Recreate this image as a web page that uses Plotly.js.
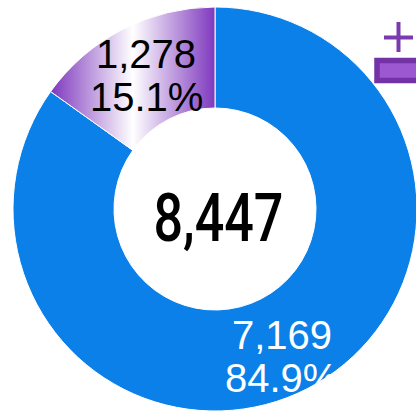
<!DOCTYPE html>
<html>
<head>
<meta charset="utf-8">
<script src="https://cdn.plot.ly/plotly-3.0.1.min.js"></script>
<style>
html,body{margin:0;padding:0;overflow:hidden;background:#fff;width:416px;height:413px;}
#chart{width:417px;height:411px;}
</style>
</head>
<body>
<div id="chart"></div>
<script>
// ---- data ----
var categories = ['Major', 'Minor'];
var values = [7169, 1278];
var sliceColors = ['#0A80E8', '#8A4CC8'];
var textColors = ['#ffffff', '#000000'];

// ---- style / placement (not data) ----
var W = 417, H = 411, ML = 13, MT = 7;
var PW = W - ML, PH = H - MT;
var labelRadius = [0.8, 0.745];
var labelShiftX = [-7, 0];
var labelShiftY = [-4, 0];
var lineGap = 21.5;
function px(x) { return (x - ML) / PW; }
function py(y) { return (H - y) / PH; }

var total = values.reduce(function (a, b) { return a + b; }, 0);
var totalLabel = total.toLocaleString('en-US');

var trace = {
  type: 'pie',
  labels: categories,
  values: values,
  hole: 0.5,
  sort: false,
  direction: 'clockwise',
  rotation: 0,
  marker: { colors: sliceColors, line: { color: '#ffffff', width: 1 } },
  textinfo: 'none',
  hoverinfo: 'none',
  showlegend: false
};

var annotations = [{
  text: totalLabel, x: 0.5, y: 0.5, xref: 'paper', yref: 'paper',
  xanchor: 'center', yanchor: 'middle', showarrow: false,
  xshift: 3, yshift: -9,
  font: { family: 'Roboto, Liberation Sans, sans-serif', size: 66, color: '#000000', weight: 500 }
}];

var cum = 0;
values.forEach(function (v, i) {
  var theta = (cum + v / 2) / total * 2 * Math.PI;
  cum += v;
  var x = 0.5 + 0.5 * labelRadius[i] * Math.sin(theta);
  var y = 0.5 + 0.5 * labelRadius[i] * Math.cos(theta);
  var pct = (v / total * 100).toFixed(1) + '%';
  var lines = [v.toLocaleString('en-US'), pct];
  lines.forEach(function (t, k) {
    annotations.push({
      text: t, x: x, y: y, xref: 'paper', yref: 'paper',
      xanchor: 'center', yanchor: 'middle', showarrow: false,
      xshift: labelShiftX[i], yshift: labelShiftY[i] + (k === 0 ? lineGap : -lineGap),
      font: { family: 'Liberation Sans, Arial, sans-serif', size: 40, color: textColors[i] },
      name: 'slice' + i
    });
  });
});

var layout = {
  width: W, height: H,
  margin: { l: ML, r: 0, t: MT, b: 0, pad: 0 },
  paper_bgcolor: '#ffffff',
  plot_bgcolor: '#ffffff',
  showlegend: false,
  annotations: annotations,
  shapes: [
    { type: 'rect', xref: 'paper', yref: 'paper', x0: px(377), x1: px(440), y0: py(60.5), y1: py(80.5),
      fillcolor: '#9B58D0', line: { color: '#7332A6', width: 5.5 } },
    { type: 'line', xref: 'paper', yref: 'paper', x0: px(384), x1: px(413), y0: py(37.5), y1: py(37.5),
      line: { color: '#7B3AAE', width: 4 } },
    { type: 'line', xref: 'paper', yref: 'paper', x0: px(398.5), x1: px(398.5), y0: py(22), y1: py(52),
      line: { color: '#7B3AAE', width: 4 } }
  ]
};

Plotly.newPlot('chart', [trace], layout, { displayModeBar: false, staticPlot: true }).then(function (gd) {
  var ns = 'http://www.w3.org/2000/svg';
  var svg = gd.querySelector('.main-svg');
  var defs = svg.querySelector('defs');
  // gradient for the small slice
  var grad = document.createElementNS(ns, 'linearGradient');
  grad.setAttribute('id', 'purpleGrad');
  grad.setAttribute('x1', '0'); grad.setAttribute('y1', '0');
  grad.setAttribute('x2', '1'); grad.setAttribute('y2', '0');
  [['0', '#7E38BE'], ['0.5', '#ffffff'], ['1', '#7E38BE']].forEach(function (s) {
    var st = document.createElementNS(ns, 'stop');
    st.setAttribute('offset', s[0]);
    st.setAttribute('stop-color', s[1]);
    grad.appendChild(st);
  });
  defs.appendChild(grad);
  var slices = gd.querySelectorAll('g.slice');
  var paths = [];
  slices.forEach(function (s) { paths.push(s.querySelector('path.surface')); });
  if (paths[1]) paths[1].style.fill = 'url(#purpleGrad)';
  // clip labels to their slices
  paths.forEach(function (p, i) {
    if (!p) return;
    var cp = document.createElementNS(ns, 'clipPath');
    cp.setAttribute('id', 'sliceClip' + i);
    cp.setAttribute('clipPathUnits', 'userSpaceOnUse');
    var pp = document.createElementNS(ns, 'path');
    pp.setAttribute('d', p.getAttribute('d'));
    cp.appendChild(pp);
    defs.appendChild(cp);
  });
  var anns = gd.querySelectorAll('g.annotation');
  anns.forEach(function (a, j) {
    if (j === 0) {
      var t = a.querySelector('text.annotation-text');
      if (t) {
        t.setAttribute('textLength', '130');
        t.setAttribute('lengthAdjust', 'spacingAndGlyphs');
      }
    } else if (j <= 2) {
      a.setAttribute('clip-path', 'url(#sliceClip0)');
    }
  });
});
</script>
</body>
</html>
